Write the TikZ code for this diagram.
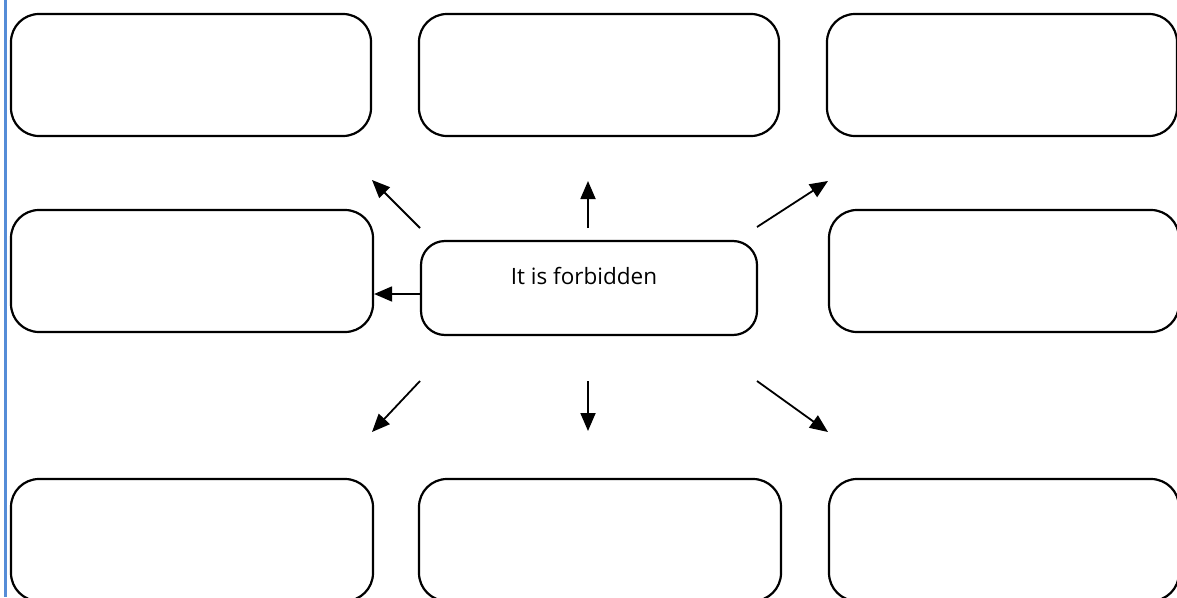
\documentclass[tikz,border=0pt]{standalone}
\usepackage{fontspec}
\setmainfont{Open Sans}
\usetikzlibrary{arrows.meta}
\definecolor{edgeblue}{RGB}{85,140,215}

\begin{document}
\begin{tikzpicture}[x=1pt,y=-1pt,
    box/.style={draw,line width=2.2pt,rounded corners=28pt,minimum height=122pt,inner sep=0pt},
    arr/.style={line width=1.8pt,-{Triangle[length=18pt,width=15pt]}}]
        \useasboundingbox (0,0) rectangle (1177,597);
        \clip (0,0) rectangle (1177,597);

        % page edge
        \draw[edgeblue,line width=1.7pt] (4.8,0) -- (4.8,597);
        \draw[edgeblue,line width=0.9pt] (6.7,0) -- (6.7,597);

        % Centre
        \node[box,rounded corners=24pt,minimum width=336pt,minimum height=94pt,font=\fontsize{22.5}{26}\selectfont] (forbid) at (589,288) {\raisebox{4pt}[0pt][0pt]{\hspace*{-10pt}It is forbidden}};

        % Top row
        \node[box,minimum width=360pt] (tl) at (191,75) {};
        \node[box,minimum width=360pt] (tm) at (599,75) {};
        \node[box,minimum width=350pt] (tr) at (1002,75) {};

        % Middle row
        \node[box,minimum width=362pt] (ml) at (192,271) {};
        \node[box,minimum width=350pt] (mr) at (1004,271) {};

        % Bottom row
        \node[box,minimum width=362pt] (bl) at (192,540) {};
        \node[box,minimum width=362pt] (bm) at (600,540) {};
        \node[box,minimum width=350pt] (br) at (1004,540) {};

        % Arrow ends
        \coordinate (ulS) at (420,228);
        \coordinate (ulE) at (372,180);
        \coordinate (upS) at (588,228);
        \coordinate (upE) at (588,181);
        \coordinate (urS) at (757,227);
        \coordinate (urE) at (828,181);
        \coordinate (lS) at ([yshift=-6pt]forbid.west);
        \coordinate (dlS) at (420,381);
        \coordinate (dlE) at (372,432);
        \coordinate (dnS) at (588,381);
        \coordinate (dnE) at (588,431);
        \coordinate (drS) at (757,381);
        \coordinate (drE) at (828,432);

        % Arrows
        \draw[arr] (ulS) -- (ulE);
        \draw[arr] (upS) -- (upE);
        \draw[arr] (urS) -- (urE);
        \draw[arr] (lS) -- (ml.east |- lS);
        \draw[arr] (dlS) -- (dlE);
        \draw[arr] (dnS) -- (dnE);
        \draw[arr] (drS) -- (drE);
\end{tikzpicture}
\end{document}
